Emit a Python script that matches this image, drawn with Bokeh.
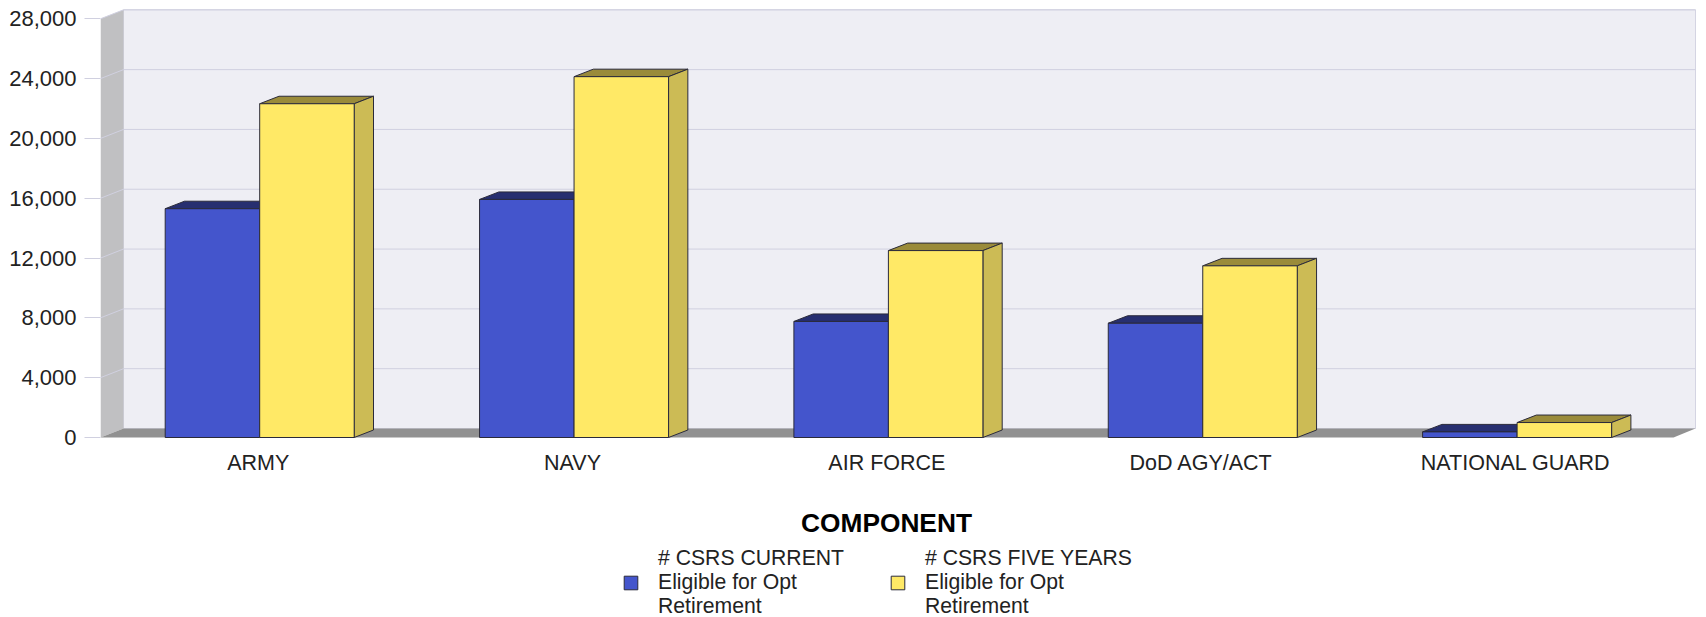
from bokeh.embed import file_html
from bokeh.resources import INLINE
from bokeh.plotting import figure
from bokeh.models import Range1d, FixedTicker, Label, Legend, LegendItem, NumeralTickFormatter

categories = ["ARMY", "NAVY", "AIR FORCE", "DoD AGY/ACT", "NATIONAL GUARD"]
current = [15300, 15920, 7760, 7640, 375]
five_years = [22320, 24130, 12500, 11480, 1000]
y_ticks = [0, 4000, 8000, 12000, 16000, 20000, 24000, 28000]
series_names = ["# CSRS CURRENT\nEligible for Opt\nRetirement", "# CSRS FIVE YEARS\nEligible for Opt\nRetirement"]

FONT = "Liberation Sans"
W, H = 1706, 617
PX_X = 314.35          # pixels per category
PX_Y = (437.0 - 18.3) / 28000  # pixels per unit
X0 = 259.2             # px of first category
def ux(px): return px / PX_X
def uy(px): return px / PX_Y

left_px, right_px = 100.0, 1706.0
top_px, bottom_px = 0.0, 617.0
p = figure(width=W, height=H, output_backend="svg", toolbar_location=None,
           x_range=Range1d((left_px - X0) / PX_X, (right_px - X0) / PX_X),
           y_range=Range1d(uy(437.0 - bottom_px), uy(437.0 - top_px)),
           min_border_left=int(left_px), min_border_right=0,
           min_border_top=0, min_border_bottom=0, outline_line_color=None)
p.grid.visible = False

# box
wall_l = (123 - X0) / PX_X
wall_r = (1695 - X0) / PX_X
front_l = (100 - X0) / PX_X
front_r = (1673 - X0) / PX_X
d_wall_y = uy(9)
top_v = y_ticks[-1]
p.quad(left=[wall_l], right=[wall_r], bottom=[d_wall_y], top=[top_v + d_wall_y],
       fill_color="#eeeef4", line_color="#d4d4e2", line_width=1)
p.patch([front_l, wall_l, wall_l, front_l], [0, d_wall_y, top_v + d_wall_y, top_v],
        fill_color="#c0c0c2", line_color=None)
p.patch([front_l, wall_l, wall_r, front_r], [0, d_wall_y, d_wall_y, 0],
        fill_color="#919191", line_color=None)
p.multi_line([[front_l, wall_l, wall_r] for _ in y_ticks[1:]],
             [[v, v + d_wall_y, v + d_wall_y] for v in y_ticks[1:]],
             line_color="#d0d0e0", line_width=1)

# bars
bw = ux(94.5)
dx, dy = ux(19.3), uy(7.5)
EDGE = "#2a2a3a"
def bar(values, lo, front, top, side):
    xs_l = [i + lo for i in range(len(values))]
    xs_r = [x + bw for x in xs_l]
    p.patches([[l, l + dx, r + dx, r] for l, r in zip(xs_l, xs_r)],
              [[v, v + dy, v + dy, v] for v in values],
              fill_color=top, line_color=EDGE, line_width=1)
    p.patches([[r, r + dx, r + dx, r] for r in xs_r],
              [[0, dy, v + dy, v] for v in values],
              fill_color=side, line_color=EDGE, line_width=1)
    return p.quad(left=xs_l, right=xs_r, bottom=[0] * len(values), top=values,
                  fill_color=front, line_color=EDGE, line_width=1)

r1 = bar(current, -bw, "#4455cc", "#272f70", "#272f70")
r2 = bar(five_years, 0, "#ffe966", "#9a8b3a", "#ccbb55")

# axes
ya = p.yaxis[0]
ya.ticker = FixedTicker(ticks=y_ticks)
ya.bounds = (0, top_v)
ya.formatter = NumeralTickFormatter(format="0,0")
ya.axis_line_color = None
ya.major_tick_line_color = "#d0d0e0"
ya.major_tick_in = 0
ya.major_tick_out = 16
ya.minor_tick_line_color = None
ya.major_label_standoff = 8
ya.major_label_text_font = FONT
ya.major_label_text_font_size = "22px"
ya.major_label_text_color = "#222222"

xa = p.xaxis[0]
xa.fixed_location = 0
tick_pos = [i - ux(1.5) for i in range(len(categories))]
xa.ticker = FixedTicker(ticks=tick_pos)
xa.major_label_overrides = {t: c for t, c in zip(tick_pos, categories)}
xa.axis_line_color = None
xa.major_tick_line_color = None
xa.minor_tick_line_color = None
xa.major_label_standoff = 7
xa.major_label_text_font = FONT
xa.major_label_text_font_size = "21.5px"
xa.major_label_text_color = "#222222"

p.add_layout(Label(x=(886 - X0) / PX_X, y=uy(437 - 522), text="COMPONENT",
                   text_font=FONT, text_font_style="bold", text_font_size="26.3px",
                   text_color="#000000", text_align="center", text_baseline="middle"))

legend = Legend(items=[LegendItem(label=series_names[0], renderers=[r1]),
                       LegendItem(label=series_names[1], renderers=[r2])],
                orientation="horizontal", location=(522, -1),
                background_fill_alpha=0, border_line_color=None,
                glyph_width=17, glyph_height=17, label_standoff=19, spacing=45,
                margin=0, padding=0, label_text_font=FONT, label_text_font_size="21.2px",
                label_text_color="#222222", label_text_line_height=0.95)
p.add_layout(legend)

open("out.html", "w").write(file_html(p, INLINE))
